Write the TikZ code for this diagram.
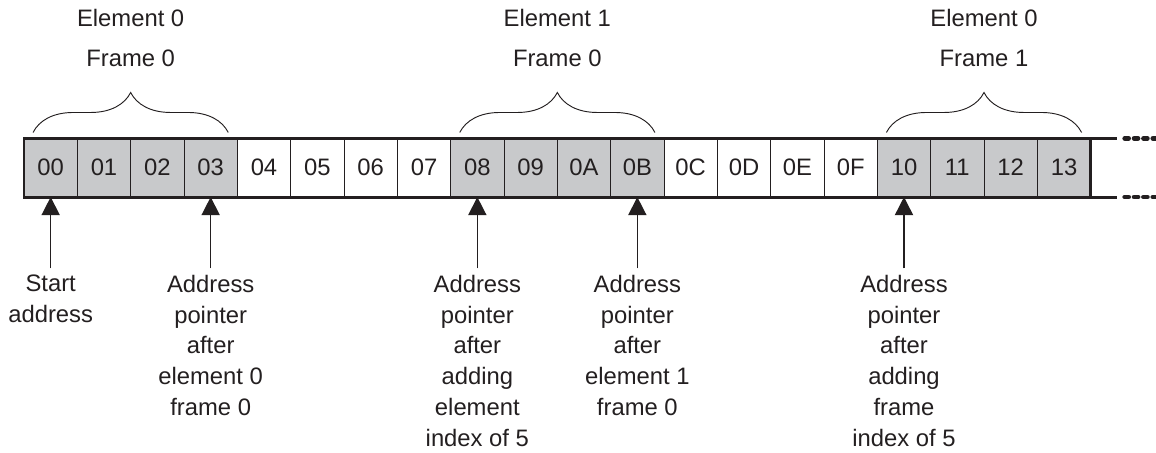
\documentclass[tikz,border=0pt]{standalone}
\usepackage{fontspec}
\setmainfont{Liberation Sans}
\usetikzlibrary{arrows.meta,positioning,calc,decorations.pathreplacing}
\definecolor{MemInk}{HTML}{231F20}
\definecolor{MemGrey}{HTML}{C8C9CB}

\begin{document}
\begin{tikzpicture}[x=1cm,y=1cm,
    every node/.style={font=\fontsize{12.7}{16.8}\selectfont, text=MemInk},
    cell/.style={draw=MemInk, line width=0.5pt, minimum width=1cm, minimum height=1.1cm, inner sep=0pt, outer sep=0pt},
    cellgrey/.style={cell, fill=MemGrey},
    border/.style={draw=MemInk, line width=1.6pt},
    more/.style={draw=MemInk, line width=2.6pt, line cap=round, dash pattern=on 2pt off 3pt},
    brace/.style={decorate, decoration={brace, amplitude=0.75cm}, draw=MemInk, line width=0.5pt},
    grouplabel/.style={align=center, inner sep=0pt},
    ptr/.style={-{Triangle[length=0.34cm,width=0.34cm]}, draw=MemInk, line width=0.8pt},
    ptrlabel/.style={anchor=north, align=center, inner sep=0.12cm, font=\fontsize{12.7}{16.4}\selectfont}]
    \useasboundingbox (-0.45,-4.781) rectangle (21.225,3.694);

    % Memory cells
    \foreach \i/\lab in {0/00,1/01,2/02,3/03,8/08,9/09,10/0A,11/0B,16/10,17/11,18/12,19/13}
      \node[cellgrey] (c\i) at (\i+0.5,0.55) {\lab};
    \foreach \i/\lab in {4/04,5/05,6/06,7/07,12/0C,13/0D,14/0E,15/0F}
      \node[cell] (c\i) at (\i+0.5,0.55) {\lab};

    % Outline and continuation
    \draw[border] (c0.south west) rectangle (c19.north east);
    \draw[border] (c19.north east) -- ++(0.5,0) coordinate (topend);
    \draw[border] (c19.south east) -- ++(0.5,0) coordinate (botend);
    \draw[more] ($(topend)+(0.14,0)$) -- ++(0.7,0);
    \draw[more] ($(botend)+(0.14,0)$) -- ++(0.7,0);

    % Groups
    \draw[brace] ($(c0.north west)+(0.17,0.11)$) -- ($(c3.north east)+(-0.17,0.11)$);
    \draw[brace] ($(c8.north west)+(0.17,0.11)$) -- ($(c11.north east)+(-0.17,0.11)$);
    \draw[brace] ($(c16.north west)+(0.17,0.11)$) -- ($(c19.north east)+(-0.17,0.11)$);
    \node[grouplabel] (grp0) at (2,2.98) {Element 0\\[0.157cm]Frame 0};
    \node[grouplabel] (grp1) at (10,2.98) {Element 1\\[0.157cm]Frame 0};
    \node[grouplabel] (grp2) at (18,2.98) {Element 0\\[0.157cm]Frame 1};

    % Pointers
    \node[ptrlabel] (start) at (0.5,-1.34) {Start\\address};
    \node[ptrlabel] (aftere0) at (3.5,-1.34) {Address\\pointer\\after\\element 0\\frame 0};
    \node[ptrlabel] (addelem) at (8.5,-1.34) {Address\\pointer\\after\\adding\\element\\index of 5};
    \node[ptrlabel] (aftere1) at (11.5,-1.34) {Address\\pointer\\after\\element 1\\frame 0};
    \node[ptrlabel] (addframe) at (16.5,-1.34) {Address\\pointer\\after\\adding\\frame\\index of 5};

    \draw[ptr] (start) -- (c0);
    \draw[ptr] (aftere0) -- (c3);
    \draw[ptr] (addelem) -- (c8);
    \draw[ptr] (aftere1) -- (c11);
    \draw[ptr] (addframe) -- (c16);
  \end{tikzpicture}
\end{document}
